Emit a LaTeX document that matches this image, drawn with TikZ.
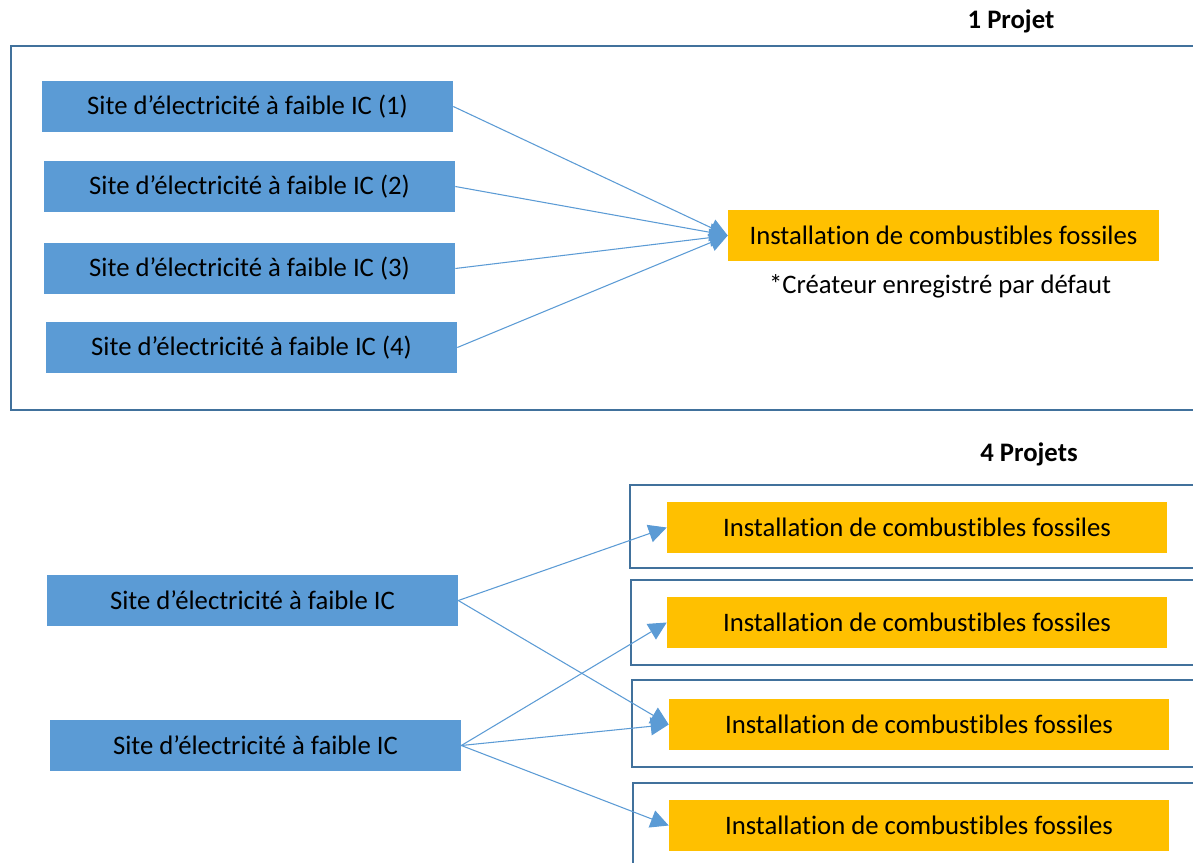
\documentclass[tikz,border=0pt]{standalone}
\usepackage{fontspec}
\setmainfont{Carlito}[Ligatures=NoCommon]
\usetikzlibrary{arrows.meta}

\definecolor{siteblue}{HTML}{5B9BD5}
\definecolor{fossorange}{HTML}{FFC000}
\definecolor{framecol}{HTML}{41719C}

\tikzset{
  sitebox/.style={fill=siteblue, minimum width=8.22cm, minimum height=1.02cm, inner sep=0pt,
    font=\fontsize{15.2pt}{18pt}\selectfont},
  fossbox/.style={fill=fossorange, minimum height=1.02cm, inner sep=0pt,
    font=\fontsize{15.2pt}{18pt}\selectfont},
  frame/.style={draw=framecol, line width=1.2pt},
  flow/.style={draw=siteblue, line width=0.6pt, -{Triangle[length=0.36cm,width=0.36cm]}}
}

\begin{document}
\begin{tikzpicture}[x=0.02cm, y=-0.02cm]
		\clip (0,0) rectangle (1193,862);
		\fill [white] (0,0) rectangle (1193,862);
		% 1 projet
		\draw [frame] (11,46) rectangle (1210,410);
		\node [font=\bfseries\fontsize{15.2pt}{18pt}\selectfont] (titleA) at (1011,21) {1 Projet};
		\node [sitebox] (s1) at (247.5,106.5) {Site d’électricité à faible IC (1)};
		\node [sitebox] (s2) at (249.5,186.5) {Site d’électricité à faible IC (2)};
		\node [sitebox] (s3) at (249.5,268.5) {Site d’électricité à faible IC (3)};
		\node [sitebox] (s4) at (251.5,347.5) {Site d’électricité à faible IC (4)};
		\node [fossbox, minimum width=8.62cm] (f0) at (943.5,235.5) {Installation de combustibles fossiles};
		\node [font=\fontsize{15.2pt}{18pt}\selectfont] (note) at (940,286) {*Créateur enregistré par défaut};
		\foreach \s in {s1,s2,s3,s4}
			\draw [flow] (\s.east) -- (f0.west);
		% 4 projets
		\node [font=\bfseries\fontsize{15.2pt}{18pt}\selectfont] (titleB) at (1029,454) {4 Projets};
		\draw [frame] (630,485) rectangle (1210,568);
		\draw [frame] (631,580) rectangle (1210,665);
		\draw [frame] (632,680) rectangle (1210,767);
		\draw [frame] (633,783) rectangle (1210,880);
		\node [fossbox, minimum width=10cm] (f1) at (917,527.5) {Installation de combustibles fossiles};
		\node [fossbox, minimum width=10cm] (f2) at (917,622.5) {Installation de combustibles fossiles};
		\node [fossbox, minimum width=10cm] (f3) at (919,724.5) {Installation de combustibles fossiles};
		\node [fossbox, minimum width=10cm] (f4) at (919,825.5) {Installation de combustibles fossiles};
		\node [sitebox] (b1) at (252.5,600.5) {Site d’électricité à faible IC};
		\node [sitebox] (b2) at (255.5,745.5) {Site d’électricité à faible IC};
		\draw [flow] (b1.east) -- (f1.west);
		\draw [flow] (b1.east) -- (f3.west);
		\draw [flow] (b2.east) -- (f2.west);
		\draw [flow] (b2.east) -- (f3.west);
		\draw [flow] (b2.east) -- (f4.west);
\end{tikzpicture}
\end{document}
